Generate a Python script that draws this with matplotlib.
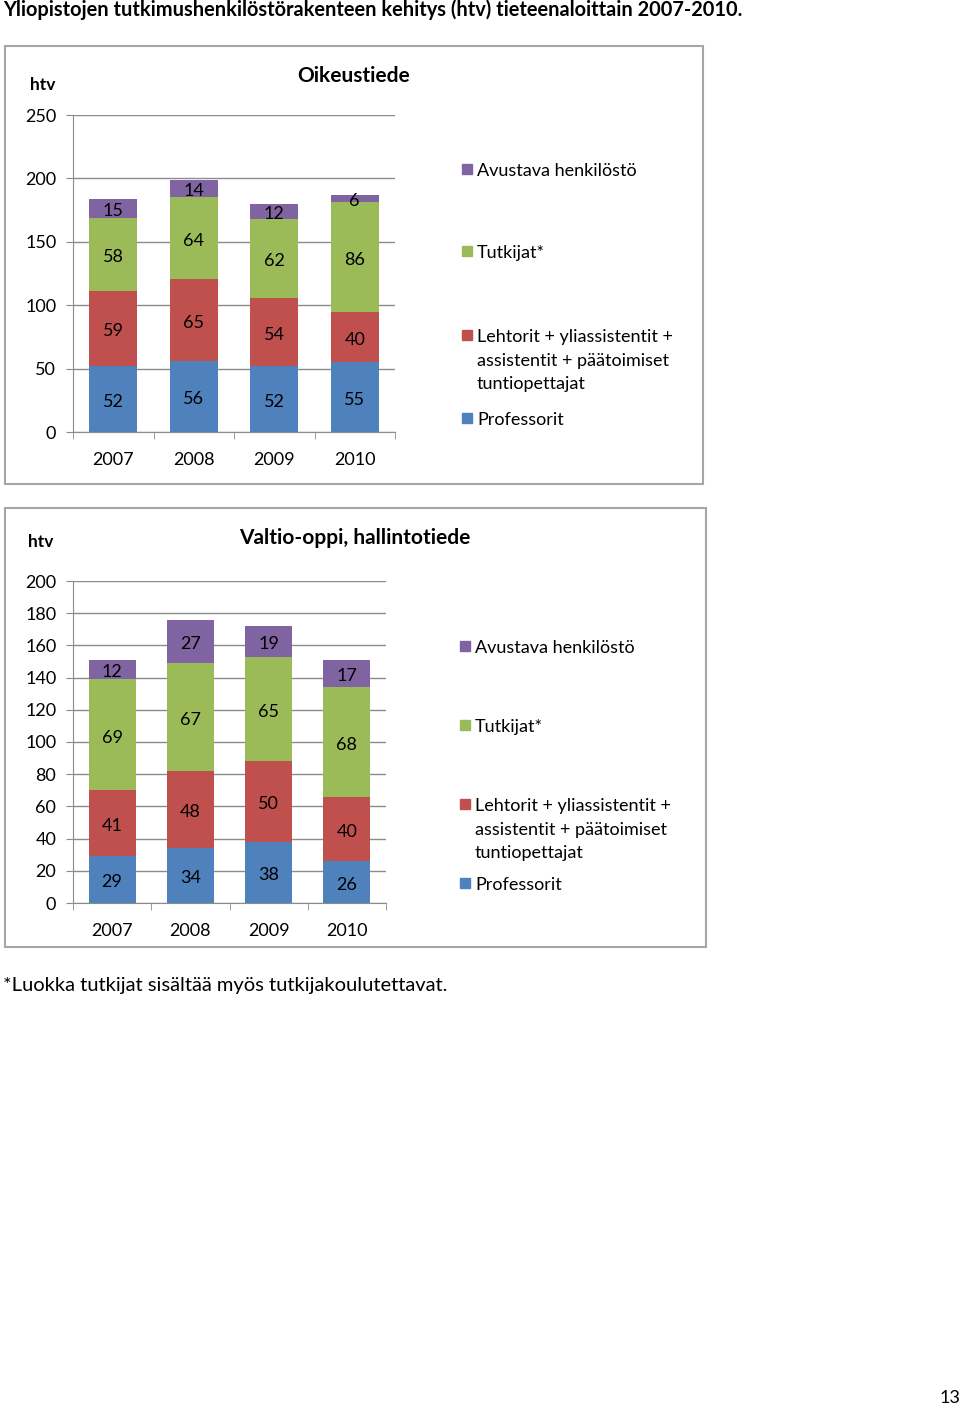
import matplotlib
matplotlib.use("Agg")
import matplotlib.pyplot as plt
from matplotlib.patches import Rectangle
from matplotlib.transforms import offset_copy
import numpy as np

plt.rcParams['font.family'] = ['Lato', 'DejaVu Sans']

# data
years = ["2007", "2008", "2009", "2010"]
series = ["Professorit",
          "Lehtorit + yliassistentit +\nassistentit + päätoimiset\ntuntiopettajat",
          "Tutkijat*",
          "Avustava henkilöstö"]
colors = ["#4F81BD", "#C0504D", "#9BBB59", "#8064A2"]

oik_prof = [52, 56, 52, 55]
oik_lehto = [59, 65, 54, 40]
oik_tutk = [58, 64, 62, 86]
oik_avust = [15, 14, 12, 6]

val_prof = [29, 34, 38, 26]
val_lehto = [41, 48, 50, 40]
val_tutk = [69, 67, 65, 68]
val_avust = [12, 27, 19, 17]

W, H = 960, 1408
fig = plt.figure(figsize=(W / 100, H / 100), dpi=100)


def fx(px):
    return px / W


def fy(py):
    return 1 - py / H


GRID = "#8c8c8c"
FS = 13


def panel(box, ax_px, title, title_xy, htv_xy, stacks, ymax, ystep, legend_x, legend_y):
    # outer frame
    x0, y0, x1, y1 = box
    fig.patches.append(Rectangle((fx(x0), fy(y1)), fx(x1 - x0), (y1 - y0) / H,
                                 transform=fig.transFigure, fill=False,
                                 edgecolor="#a6a6a6", linewidth=1.5))
    l, t, r, b = ax_px
    ax = fig.add_axes([fx(l), fy(b), fx(r - l), (b - t) / H])
    lab_tr = offset_copy(ax.transData, fig=fig, y=-2, units="points")
    x = np.arange(len(years))
    bottom = np.zeros(len(years))
    for vals, c in zip(stacks, colors):
        vals = np.array(vals, dtype=float)
        ax.bar(x, vals, 0.6, bottom=bottom, color=c, zorder=3)
        for xi, bi, v in zip(x, bottom, vals):
            ax.text(xi, bi + v / 2, str(int(v)), ha="center", va="center",
                    fontsize=FS, color="black", zorder=4, transform=lab_tr)
        bottom += vals
    ax.set_xlim(-0.5, len(years) - 0.5)
    ax.set_ylim(0, ymax)
    ax.set_yticks(np.arange(0, ymax + 1, ystep))
    ax.yaxis.grid(True, color=GRID, linewidth=1, zorder=0)
    ax.set_axisbelow(True)
    ax.set_xticks(x)
    ax.set_xticklabels(years, fontsize=FS)
    ax.set_xticks(np.arange(-0.5, len(years)), minor=True)
    ax.tick_params(axis="x", which="major", length=0, pad=14.5)
    ax.tick_params(axis="x", which="minor", length=5, color=GRID, direction="out")
    ax.tick_params(axis="y", length=5, color=GRID, labelsize=FS, pad=7)
    for s in ["top", "right"]:
        ax.spines[s].set_visible(False)
    ax.spines["left"].set_color(GRID)
    ax.spines["bottom"].set_color(GRID)
    fig.text(fx(title_xy[0]), fy(title_xy[1]), title, ha="center", va="center",
             fontsize=15, fontweight="bold")
    fig.text(fx(htv_xy[0]), fy(htv_xy[1]), "htv", ha="center", va="center",
             fontsize=12.5, fontweight="bold")
    # legend, top entry first
    for name, c, ly in zip(series[::-1], colors[::-1], legend_y):
        fig.patches.append(Rectangle((fx(legend_x), fy(ly + 5)), fx(10), 10 / H,
                                     transform=fig.transFigure, color=c))
        fig.text(fx(legend_x + 15), fy(ly - 6), name, ha="left", va="top",
                 fontsize=FS, linespacing=1.58)
    return ax


panel((5, 46, 703, 484), (73, 115, 395, 432), "Oikeustiede", (354, 76), (43, 85),
      [oik_prof, oik_lehto, oik_tutk, oik_avust], 250, 50, 462, [169, 251, 335, 418])
panel((5, 508, 706, 947), (73, 581, 386, 903), "Valtio-oppi, hallintotiede", (355, 538),
      (41, 542), [val_prof, val_lehto, val_tutk, val_avust], 200, 20, 460,
      [646, 725, 804, 883])

fig.text(fx(3), fy(10), "Yliopistojen tutkimushenkilöstörakenteen kehitys (htv) tieteenaloittain 2007-2010.",
         ha="left", va="center", fontsize=14.4, fontweight="bold")
fig.text(fx(3), fy(985), "*Luokka tutkijat sisältää myös tutkijakoulutettavat.",
         ha="left", va="center", fontsize=14.5)
fig.text(fx(950), fy(1398), "13", ha="center", va="center", fontsize=FS)

fig.savefig("out.png", dpi=100)
